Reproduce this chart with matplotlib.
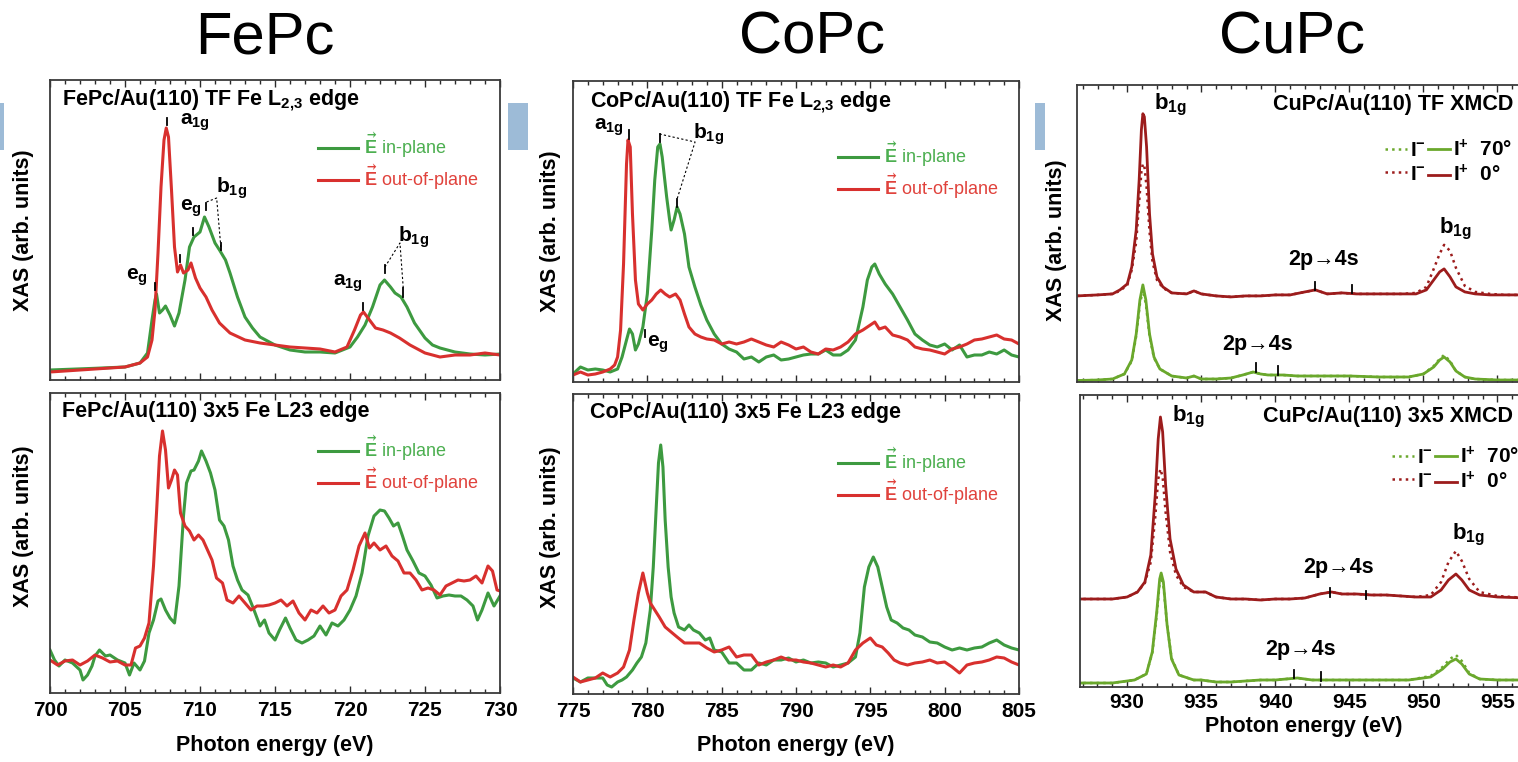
import numpy as np
import matplotlib
matplotlib.use("Agg")
import matplotlib.pyplot as plt
from matplotlib.patches import Rectangle
from matplotlib.ticker import MultipleLocator

plt.rcParams['font.family'] = ['Liberation Sans', 'DejaVu Sans']
plt.rcParams['font.weight'] = 'bold'
plt.rcParams['axes.labelweight'] = 'bold'
plt.rcParams['mathtext.fontset'] = 'custom'
plt.rcParams['mathtext.rm'] = 'Liberation Sans'
plt.rcParams['mathtext.it'] = 'Liberation Sans:italic'
plt.rcParams['mathtext.bf'] = 'Liberation Sans:bold'
plt.rcParams['mathtext.fallback'] = 'stix'

# ---------------- FePc, thin film (TF) ----------------
fe_tf_in_e = [700, 703, 705, 706, 706.5, 706.8, 707.0, 707.1, 707.3, 707.5,
              707.7, 708.0, 708.3, 708.6, 709.0, 709.3, 709.6, 710.0, 710.3, 710.6,
              711.0, 711.3, 711.7, 712.0, 712.5, 713.0, 713.5, 714, 715, 716,
              717, 718, 719, 720, 720.5, 721, 721.5, 722, 722.3, 722.7,
              723.0, 723.4, 723.8, 724.3, 725, 725.5, 726, 727, 728, 729, 730]
fe_tf_in = [10, 11.7, 13, 17, 27, 60, 80, 86, 67, 70,
            74, 65, 54, 67, 100, 133, 143, 148, 163, 153,
            137, 130, 120, 107, 83, 63, 52, 43, 35, 30,
            28, 28, 27, 33, 43, 55, 73, 95, 100, 93,
            87, 83, 73, 57, 42, 35, 32, 28, 26, 25, 26]
fe_tf_out_e = [700, 703, 705, 706, 706.5, 706.8, 707.0, 707.2, 707.4, 707.6,
               707.75, 707.9, 708.1, 708.3, 708.5, 708.7, 708.9, 709.2, 709.4, 709.7,
               710.0, 710.4, 710.8, 711.3, 712, 713, 714, 715, 716, 717,
               718, 719, 719.8, 720.3, 720.7, 720.9, 721.3, 721.7, 722.2, 722.7,
               723.3, 724, 725, 726, 727, 728, 729, 730]
fe_tf_out = [8, 11, 13, 17, 23, 40, 70, 127, 193, 240,
             252, 243, 190, 133, 108, 115, 107, 110, 117, 102,
             92, 83, 70, 57, 47, 40, 37, 35, 33, 32,
             31, 28, 33, 50, 65, 68, 60, 52, 50, 47,
             42, 35, 27, 23, 25, 25, 27, 25]

# ---------------- FePc, 3x5 reconstruction ----------------
fe_35_in_e = [700, 700.3, 700.6, 701, 701.5, 702, 702.2, 702.5, 702.8, 703,
              703.3, 703.7, 704, 704.5, 705, 705.3, 705.6, 706, 706.3, 706.6,
              706.9, 707.2, 707.4, 707.7, 708.0, 708.3, 708.6, 708.9, 709.1, 709.4,
              709.6, 709.9, 710.1, 710.4, 710.7, 711, 711.3, 711.6, 711.9, 712.2,
              712.5, 712.8, 713.2, 713.6, 714, 714.3, 714.6, 715, 715.3, 715.7,
              716, 716.4, 716.8, 717.2, 717.6, 718, 718.4, 718.8, 719.2, 719.6,
              720, 720.4, 720.8, 721.2, 721.6, 722, 722.3, 722.6, 722.9, 723.2,
              723.5, 723.8, 724.2, 724.6, 725, 725.4, 725.8, 726.2, 726.6, 727,
              727.4, 727.8, 728.2, 728.5, 728.8, 729.2, 729.6, 730]
fe_35_in = [43, 33, 27, 33, 30, 23, 13, 18, 27, 37,
            43, 37, 38, 33, 30, 18, 30, 23, 32, 60,
            73, 92, 94, 83, 75, 70, 107, 177, 210, 222,
            223, 232, 242, 232, 220, 203, 173, 167, 153, 127,
            113, 103, 98, 83, 67, 73, 60, 53, 63, 75,
            65, 53, 50, 53, 57, 67, 58, 70, 67, 73,
            83, 97, 120, 157, 177, 183, 182, 175, 167, 170,
            157, 143, 132, 120, 117, 108, 95, 97, 98, 97,
            97, 93, 87, 73, 83, 100, 87, 97]
fe_35_out_e = [700, 700.5, 701, 701.5, 702, 702.5, 703, 703.5, 704, 704.5,
               705, 705.4, 705.7, 706, 706.3, 706.6, 706.9, 707.1, 707.3, 707.5,
               707.7, 707.9, 708.1, 708.3, 708.5, 708.7, 709.0, 709.3, 709.6, 709.9,
               710.2, 710.5, 710.8, 711.1, 711.5, 711.8, 712.2, 712.6, 713, 713.4,
               713.8, 714.2, 714.6, 715, 715.4, 715.8, 716.2, 716.6, 717, 717.4,
               717.8, 718.2, 718.6, 719, 719.4, 719.8, 720.2, 720.6, 721, 721.3,
               721.6, 722, 722.4, 722.8, 723.2, 723.6, 724, 724.4, 724.8, 725.2,
               725.6, 726, 726.4, 726.8, 727.2, 727.6, 728, 728.4, 728.8, 729.2,
               729.5, 729.8, 730]
fe_35_out = [33, 28, 32, 33, 28, 32, 38, 35, 31, 32,
             28, 28, 45, 47, 55, 70, 127, 180, 237, 262,
             243, 205, 213, 223, 218, 180, 167, 162, 153, 158,
             153, 143, 133, 115, 110, 93, 90, 97, 90, 83,
             87, 87, 88, 90, 93, 87, 92, 80, 73, 83,
             80, 87, 80, 83, 97, 103, 123, 147, 160, 145,
             150, 143, 147, 137, 132, 120, 120, 113, 103, 105,
             103, 98, 107, 110, 113, 112, 113, 117, 110, 127,
             122, 103, 102]

# ---------------- CoPc, thin film ----------------
co_tf_in_e = [775, 775.5, 776, 776.5, 777, 777.5, 778, 778.3, 778.6, 778.8,
              779.0, 779.2, 779.4, 779.7, 780.0, 780.3, 780.5, 780.7, 780.85, 781.0,
              781.3, 781.5, 781.6, 781.8, 782.0, 782.2, 782.5, 782.8, 783.2, 783.6,
              784, 784.5, 785, 785.5, 786, 786.5, 787, 787.5, 788, 788.5,
              789, 789.5, 790, 790.5, 791, 791.5, 792, 792.5, 793, 793.5,
              794, 794.5, 794.8, 795.1, 795.3, 795.6, 796, 796.5, 797, 797.5,
              798, 798.5, 799, 799.5, 800, 800.5, 801, 801.5, 802, 802.5,
              803, 803.5, 804, 804.5, 805]
co_tf_in = [8, 15, 12, 13, 12, 10, 13, 25, 42, 53,
            48, 32, 38, 55, 88, 152, 202, 235, 238, 225,
            185, 162, 152, 162, 175, 168, 148, 115, 95, 77,
            62, 48, 38, 33, 30, 23, 25, 20, 25, 27,
            22, 23, 25, 27, 28, 28, 32, 27, 27, 32,
            42, 75, 102, 115, 118, 108, 98, 88, 75, 62,
            48, 42, 37, 35, 38, 32, 37, 25, 27, 27,
            30, 28, 32, 27, 25]
co_tf_out_e = [775, 775.5, 776, 776.5, 777, 777.5, 777.8, 778.0, 778.2, 778.4,
               778.5, 778.6, 778.7, 778.85, 779.0, 779.2, 779.4, 779.7, 780.0, 780.3,
               780.6, 780.9, 781.2, 781.5, 781.9, 782.2, 782.5, 782.8, 783.2, 783.6,
               784, 784.5, 785, 785.5, 786, 786.5, 787, 787.5, 788, 788.5,
               789, 789.5, 790, 790.5, 791, 791.5, 792, 792.5, 793, 793.5,
               794, 794.5, 795, 795.3, 795.6, 796, 796.5, 797, 797.5, 798,
               798.5, 799, 799.5, 800, 800.5, 801, 801.5, 802, 802.5, 803,
               803.5, 804, 804.5, 805]
co_tf_out = [7, 10, 7, 8, 10, 13, 17, 25, 52, 118,
             168, 218, 242, 235, 168, 102, 78, 72, 78, 82,
             88, 92, 88, 85, 88, 82, 68, 55, 48, 45,
             43, 42, 38, 40, 38, 40, 43, 40, 37, 35,
             40, 37, 33, 35, 30, 28, 33, 32, 35, 40,
             48, 52, 57, 60, 53, 55, 47, 45, 42, 35,
             33, 32, 30, 28, 33, 35, 38, 42, 43, 45,
             47, 43, 42, 38]

# ---------------- CoPc, 3x5 ----------------
co_35_in_e = [775, 775.5, 776, 776.5, 777, 777.3, 777.6, 778, 778.3, 778.6,
              779, 779.3, 779.6, 779.9, 780.2, 780.4, 780.6, 780.75, 780.9, 781.05,
              781.2, 781.4, 781.6, 781.8, 782.1, 782.5, 782.8, 783.1, 783.5, 783.9,
              784.2, 784.5, 785, 785.5, 786, 786.5, 787, 787.5, 788, 788.5,
              789, 789.5, 790, 790.5, 791, 791.5, 792, 792.5, 793, 793.5,
              794, 794.3, 794.6, 794.9, 795.2, 795.5, 795.8, 796.1, 796.4, 796.8,
              797.2, 797.6, 798, 798.5, 799, 799.5, 800, 800.5, 801, 801.5,
              802, 802.5, 803, 803.5, 804, 804.5, 805]
co_35_in = [16, 12, 16, 16, 16, 9, 7, 12, 14, 17,
            24, 31, 37, 51, 84, 127, 187, 231, 249, 227,
            174, 127, 97, 81, 67, 64, 69, 64, 61, 54,
            56, 44, 42, 31, 31, 24, 24, 31, 29, 34,
            34, 36, 32, 34, 31, 32, 31, 27, 29, 31,
            37, 61, 107, 127, 137, 127, 107, 87, 74, 71,
            66, 64, 59, 57, 52, 51, 47, 44, 46, 44,
            46, 47, 51, 54, 49, 46, 44]
co_35_out_e = [775, 775.5, 776, 776.5, 777, 777.5, 778, 778.4, 778.8, 779.1,
               779.4, 779.7, 780.0, 780.2, 780.5, 780.8, 781.2, 781.6, 782, 782.5,
               783, 783.5, 784, 784.5, 785, 785.5, 786, 786.5, 787, 787.5,
               788, 788.5, 789, 789.5, 790, 790.5, 791, 791.5, 792, 792.5,
               793, 793.5, 794, 794.5, 795, 795.4, 795.8, 796.2, 796.6, 797,
               797.5, 798, 798.5, 799, 799.5, 800, 800.5, 801, 801.5, 802,
               802.5, 803, 803.5, 804, 804.5, 805]
co_35_out = [17, 12, 14, 16, 21, 17, 21, 27, 44, 74,
             101, 121, 101, 91, 84, 77, 67, 62, 57, 51,
             51, 51, 46, 42, 44, 47, 37, 39, 39, 29,
             32, 34, 37, 34, 34, 32, 31, 29, 27, 29,
             27, 31, 44, 51, 56, 49, 47, 41, 34, 31,
             29, 31, 32, 34, 31, 32, 27, 21, 29, 31,
             32, 34, 37, 36, 32, 29]

# ---------------- CuPc, thin film XMCD (I- dotted, I+ solid) ----------------
cu_tf_0_e = [926.6, 928, 929, 929.5, 930, 930.3, 930.6, 930.8, 930.95, 931.05,
             931.15, 931.3, 931.5, 931.7, 932.0, 932.4, 933, 934, 934.5, 935,
             936, 937, 938, 939, 940, 941, 942, 942.7, 943.5, 944.5,
             945.5, 946.5, 947.5, 948.5, 949.5, 950.2, 950.7, 951.1, 951.4, 951.8,
             952.2, 952.8, 953.5, 954.5, 955.5, 956.4, 957.0]
cu_tf_0_plus = [86, 87, 88, 92, 98, 115, 152, 202, 252, 268,
                265, 235, 168, 128, 105, 95, 89, 88, 91, 88,
                86, 85, 86, 86, 87, 87, 90, 92, 88, 89,
                88, 88, 88, 88, 88, 92, 102, 110, 113, 105,
                95, 90, 88, 87, 87, 87, 87]
cu_tf_0_minus = [86, 87, 88, 91, 97, 112, 140, 180, 210, 218,
                 216, 195, 150, 120, 102, 94, 89, 88, 91, 88,
                 86, 85, 86, 86, 87, 87, 90, 92, 88, 89,
                 88, 88, 88, 88, 89, 95, 113, 128, 137, 131,
                 114, 96, 90, 88, 87, 87, 87]
cu_tf_70_e = [926.6, 928, 929, 929.8, 930.3, 930.6, 930.85, 931.05, 931.25, 931.5,
              931.8, 932.2, 933, 934, 934.5, 935, 936, 937, 937.8, 938.5,
              939, 939.5, 940.5, 941.5, 943, 945, 947, 949, 950, 950.7,
              951.1, 951.4, 951.8, 952.2, 952.8, 953.5, 955, 957.0]
cu_tf_70_plus = [1.5, 2, 3, 8, 22, 48, 82, 97, 82, 48,
                 25, 13, 6, 4, 6, 3, 3, 4, 7, 10,
                 8, 7, 7, 6, 6, 6, 5, 5, 8, 15,
                 22, 25, 20, 11, 5, 3, 2, 2]
cu_tf_70_minus = [1.5, 2, 3, 8, 21, 46, 78, 92, 78, 46,
                  24, 13, 6, 4, 6, 3, 3, 4, 7, 10,
                  8, 7, 7, 6, 6, 6, 5, 5, 8, 16,
                  23, 27, 21, 11, 5, 3, 2, 2]

# ---------------- CuPc, 3x5 XMCD ----------------
cu_35_0_e = [926.6, 928, 929, 930, 930.7, 931.2, 931.6, 931.9, 932.1, 932.25,
             932.4, 932.6, 932.9, 933.3, 933.8, 934.5, 935.3, 936, 937, 938,
             939, 940, 941, 942, 943, 943.8, 944.5, 945.5, 946.5, 947.5,
             948.5, 949.5, 950.5, 951.2, 951.7, 952.2, 952.6, 953.1, 953.8, 955, 957.0]
cu_35_0_plus = [88, 88, 88, 90, 95, 105, 132, 192, 248, 270,
                255, 202, 148, 118, 102, 95, 95, 90, 88, 88,
                87, 88, 88, 89, 93, 95, 93, 93, 92, 92,
                91, 90, 90, 97, 107, 113, 107, 97, 92, 90, 89]
cu_35_0_minus = [88, 88, 88, 90, 95, 104, 125, 170, 208, 218,
                 210, 175, 135, 112, 100, 95, 95, 90, 88, 88,
                 87, 88, 88, 89, 93, 95, 93, 93, 92, 92,
                 91, 90, 92, 105, 125, 136, 126, 108, 95, 91, 89]
cu_35_70_e = [926.6, 929, 930.5, 931.3, 931.7, 932.0, 932.2, 932.3, 932.45, 932.7,
              933.0, 933.5, 934.5, 935, 936, 937, 938, 939, 940, 941.5,
              942.5, 943.5, 945, 947, 949, 950.5, 951.3, 951.8, 952.2, 952.6,
              953.1, 953.8, 955, 957.0]
cu_35_70_plus = [4, 4, 7, 13, 35, 75, 108, 114, 105, 62,
                 28, 12, 7, 7, 5, 5, 6, 7, 7, 9,
                 7, 7, 7, 7, 7, 10, 18, 25, 28, 23,
                 13, 8, 7, 7]
cu_35_70_minus = [4, 4, 7, 13, 34, 72, 104, 110, 102, 62,
                  29, 12, 7, 7, 5, 5, 6, 7, 7, 9,
                  7, 7, 7, 7, 7, 11, 20, 28, 32, 26,
                  14, 8, 7, 7]

GREEN, RED = '#3d9a40', '#d8302e'
GREEN_TXT, RED_TXT = '#4caf50', '#e0423c'
CU_RED, CU_GREEN = '#9c1c1c', '#6aa82c'
INK = '#2b2b2b'

W, H = 1518, 762
fig = plt.figure(figsize=(W / 100, H / 100), dpi=100)


def box(x0, y0, x1, y1):
    # pixel box measured from the top-left corner -> figure rect
    return [x0 / W, 1 - y1 / H, (x1 - x0) / W, (y1 - y0) / H]


def style(ax, xlim, ylim, labels):
    ax.set_xlim(*xlim)
    ax.set_ylim(*ylim)
    ax.set_yticks([])
    ax.xaxis.set_major_locator(MultipleLocator(5))
    ax.xaxis.set_minor_locator(MultipleLocator(1))
    ax.tick_params(axis='x', which='both', direction='in', top=True, bottom=True,
                   color=INK, width=1.0, labelsize=15, pad=6, labelbottom=labels)
    ax.tick_params(axis='x', which='major', length=5)
    ax.tick_params(axis='x', which='minor', length=3)
    for lbl in ax.get_xticklabels():
        lbl.set_fontweight('bold')
    for s in ax.spines.values():
        s.set_color('#3a3a3a')
        s.set_linewidth(1.3)


def tick(ax, x, y0, y1):
    ax.plot([x, x], [y0, y1], color='k', lw=1.3)


def dashes(ax, xs, ys):
    ax.plot(xs, ys, color='k', lw=0.8, ls=(0, (2, 2)))


def sym(ax, x, y, s, size=15, ha='left'):
    ax.text(x, y, s, fontsize=size, ha=ha, va='center', fontweight='bold')


def e_legend(ax, x, y):
    leg = ax.legend(loc='upper left', bbox_to_anchor=(x, y), frameon=False,
                    prop={'size': 13, 'weight': 'normal'}, handlelength=2.2,
                    handletextpad=0.35, labelspacing=0.15, borderpad=0,
                    borderaxespad=0)
    for t, c in zip(leg.get_texts(), [GREEN_TXT, RED_TXT]):
        t.set_color(c)


def cu_legend(ax, lines, x, y):
    handles = [lines[0], lines[2], lines[1], lines[3]]
    labels = [r'$\mathbf{I^{-}}$', r'$\mathbf{I^{-}}$',
              r'$\mathbf{I^{+}}$  70°', r'$\mathbf{I^{+}}$  0°']
    ax.legend(handles, labels, ncol=2, loc='upper left', bbox_to_anchor=(x, y),
              frameon=False, prop={'size': 15, 'weight': 'bold'}, handlelength=1.05,
              handletextpad=0.15, columnspacing=0.1, labelspacing=0.2,
              borderpad=0, borderaxespad=0)


def ylab(ax, x, y):
    ax.set_ylabel('XAS (arb. units)', fontsize=15.5, fontweight='bold')
    ax.yaxis.set_label_coords(x, y)


def xlab(ax, y):
    ax.set_xlabel('Photon energy (eV)', fontsize=15.5, fontweight='bold')
    ax.xaxis.set_label_coords(0.5, y)


E_IN = r'$\vec{\mathrm{E}}$ in-plane'
E_OUT = r'$\vec{\mathrm{E}}$ out-of-plane'
L23 = r'L$_{\mathbf{2{,}3}}$'
LW = 2.2

# ---- FePc TF ----
ax = fig.add_axes(box(50, 80, 500, 380))
ax.plot(fe_tf_in_e, fe_tf_in, color=GREEN, lw=LW, label=E_IN)
ax.plot(fe_tf_out_e, fe_tf_out, color=RED, lw=LW, label=E_OUT)
style(ax, (700, 730), (0, 300), False)
ylab(ax, -0.036, 0.5)
ax.text(700.8, 280, 'FePc/Au(110) TF Fe ' + L23 + ' edge', fontsize=15.5,
        va='center', fontweight='bold')
e_legend(ax, 0.596, 0.83)
sym(ax, 708.67, 258, r'$\mathbf{a_{1g}}$')
tick(ax, 707.8, 255, 262)
sym(ax, 706.5, 103, r'$\mathbf{e_{g}}$', ha='right')
tick(ax, 707.0, 90, 97)
sym(ax, 708.67, 172, r'$\mathbf{e_{g}}$')
tick(ax, 709.53, 145, 152)
tick(ax, 708.67, 118, 125)
sym(ax, 711.1, 192, r'$\mathbf{b_{1g}}$')
tick(ax, 710.4, 170, 177)
tick(ax, 711.4, 130, 137)
dashes(ax, [710.44, 711.11, 711.4], [178, 182, 131])
sym(ax, 718.87, 97, r'$\mathbf{a_{1g}}$')
tick(ax, 720.84, 70, 77)
sym(ax, 723.2, 143, r'$\mathbf{b_{1g}}$')
tick(ax, 722.3, 107, 115)
tick(ax, 723.56, 83, 92)
dashes(ax, [722.33, 723.33, 723.56], [113, 137, 90])

# ---- FePc 3x5 ----
ax = fig.add_axes(box(50, 393, 500, 693))
ax.plot(fe_35_in_e, fe_35_in, color=GREEN, lw=LW, label=E_IN)
ax.plot(fe_35_out_e, fe_35_out, color=RED, lw=LW, label=E_OUT)
style(ax, (700, 730), (0, 300), True)
ylab(ax, -0.036, 0.557)
xlab(ax, -0.14)
ax.text(700.8, 281, 'FePc/Au(110) 3x5 Fe L23 edge', fontsize=15.5, va='center',
        fontweight='bold')
e_legend(ax, 0.596, 0.865)

# ---- CoPc TF ----
ax = fig.add_axes(box(573, 81, 1019, 382))
ax.plot(co_tf_in_e, co_tf_in, color=GREEN, lw=LW, label=E_IN)
ax.plot(co_tf_out_e, co_tf_out, color=RED, lw=LW, label=E_OUT)
style(ax, (775, 805), (0, 301), False)
ylab(ax, -0.028, 0.5)
ax.text(776.16, 280, 'CoPc/Au(110) TF Fe ' + L23 + ' edge', fontsize=15.5,
        va='center', fontweight='bold')
e_legend(ax, 0.594, 0.805)
sym(ax, 776.38, 255, r'$\mathbf{a_{1g}}$')
tick(ax, 778.8, 243, 252)
sym(ax, 783.1, 248, r'$\mathbf{b_{1g}}$')
tick(ax, 780.82, 240, 248)
tick(ax, 781.98, 175, 183)
dashes(ax, [780.82, 783.21, 781.98], [248, 240, 182])
sym(ax, 779.97, 38, r'$\mathbf{e_{g}}$')
tick(ax, 779.84, 45, 52)

# ---- CoPc 3x5 ----
ax = fig.add_axes(box(573, 394, 1019, 694))
ax.plot(co_35_in_e, co_35_in, color=GREEN, lw=LW, label=E_IN)
ax.plot(co_35_out_e, co_35_out, color=RED, lw=LW, label=E_OUT)
style(ax, (775, 805), (0, 300), True)
ylab(ax, -0.028, 0.555)
xlab(ax, -0.137)
ax.text(776.16, 281, 'CoPc/Au(110) 3x5 Fe L23 edge', fontsize=15.5, va='center',
        fontweight='bold')
e_legend(ax, 0.594, 0.828)

# ---- CuPc TF ----
ax = fig.add_axes(box(1077, 85, 1527, 382))
l0 = ax.plot(cu_tf_70_e, cu_tf_70_minus, color=CU_GREEN, lw=1.8, ls=':')[0]
l1 = ax.plot(cu_tf_70_e, cu_tf_70_plus, color=CU_GREEN, lw=2.0)[0]
l2 = ax.plot(cu_tf_0_e, cu_tf_0_minus, color=CU_RED, lw=1.8, ls=':')[0]
l3 = ax.plot(cu_tf_0_e, cu_tf_0_plus, color=CU_RED, lw=2.0)[0]
style(ax, (926.6, 957.0), (0, 296.7), False)
ylab(ax, -0.022, 0.477)
ax.text(956.08, 277, 'CuPc/Au(110) TF XMCD', fontsize=15.5, ha='right', va='center',
        fontweight='bold')
cu_legend(ax, [l0, l1, l2, l3], 0.684, 0.818)
sym(ax, 931.78, 277, r'$\mathbf{b_{1g}}$', size=16)
sym(ax, 951.03, 153, r'$\mathbf{b_{1g}}$', size=16)
sym(ax, 940.9, 122, '2p→4s', size=15.5)
tick(ax, 942.65, 92, 100)
tick(ax, 945.18, 89, 97)
sym(ax, 936.4, 37, '2p→4s', size=15.5)
tick(ax, 938.72, 10, 19)
tick(ax, 940.16, 7, 16)

# ---- CuPc 3x5 ----
ax = fig.add_axes(box(1080, 395, 1527, 687))
l0 = ax.plot(cu_35_70_e, cu_35_70_minus, color=CU_GREEN, lw=1.8, ls=':')[0]
l1 = ax.plot(cu_35_70_e, cu_35_70_plus, color=CU_GREEN, lw=2.0)[0]
l2 = ax.plot(cu_35_0_e, cu_35_0_minus, color=CU_RED, lw=1.8, ls=':')[0]
l3 = ax.plot(cu_35_0_e, cu_35_0_plus, color=CU_RED, lw=2.0)[0]
style(ax, (926.82, 957.0), (0, 292), True)
ax.tick_params(axis='x', pad=4)
xlab(ax, -0.1)
ax.text(956.08, 270, 'CuPc/Au(110) 3x5 XMCD', fontsize=15.5, ha='right', va='center',
        fontweight='bold')
cu_legend(ax, [l0, l1, l2, l3], 0.698, 0.825)
sym(ax, 933.0, 270, r'$\mathbf{b_{1g}}$', size=16)
sym(ax, 951.94, 152, r'$\mathbf{b_{1g}}$', size=16)
sym(ax, 941.91, 120, '2p→4s', size=15.5)
tick(ax, 943.72, 90, 99)
tick(ax, 946.15, 88, 96)
sym(ax, 939.32, 37, '2p→4s', size=15.5)
tick(ax, 941.3, 9, 17)
tick(ax, 943.08, 6, 15)

# column headings
for cx, name in [(265, 'FePc'), (812, 'CoPc'), (1292, 'CuPc')]:
    fig.text(cx / W, 1 - 53 / H, name, fontsize=43, fontweight='normal',
             ha='center', va='baseline')

# slide tabs at the left of each column
for x0, x1 in [(0, 4), (508, 528), (1035, 1045)]:
    fig.add_artist(Rectangle((x0 / W, 1 - 150 / H), (x1 - x0) / W, 47 / H,
                             transform=fig.transFigure, color='#9dbbd7', lw=0))

fig.savefig('out.png', dpi=100)
